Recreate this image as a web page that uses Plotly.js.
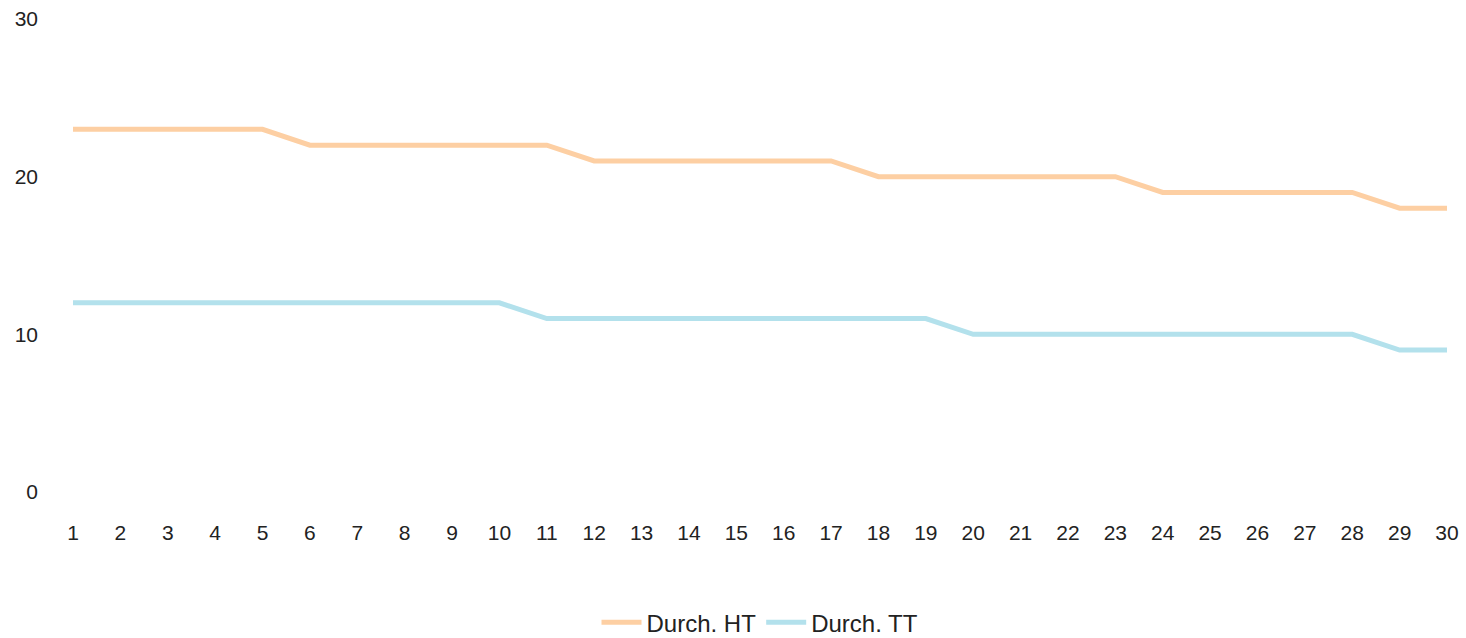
<!DOCTYPE html>
<html>
<head>
<meta charset="utf-8">
<script src="https://cdn.plot.ly/plotly-3.0.1.min.js"></script>
<style>html,body{margin:0;padding:0;background:#fff;}#chart{width:1466px;height:638px;}</style>
</head>
<body>
<div id="chart"></div>
<script>
const days = [1,2,3,4,5,6,7,8,9,10,11,12,13,14,15,16,17,18,19,20,21,22,23,24,25,26,27,28,29,30];
const durchHT = [23,23,23,23,23,22,22,22,22,22,22,21,21,21,21,21,21,20,20,20,20,20,20,19,19,19,19,19,18,18];
const durchTT = [12,12,12,12,12,12,12,12,12,12,11,11,11,11,11,11,11,11,11,10,10,10,10,10,10,10,10,10,9,9];
const seriesNames = ["Durch. HT", "Durch. TT"];
const yTicks = [0,10,20,30];

const traces = [
  {x: days, y: durchHT, name: seriesNames[0], type: "scatter", mode: "lines",
   line: {color: "#FDCFA3", width: 5}},
  {x: days, y: durchTT, name: seriesNames[1], type: "scatter", mode: "lines",
   line: {color: "#B3E1EC", width: 5}}
];

const layout = {
  width: 1466, height: 638,
  margin: {l: 73, r: 19, t: 19, b: 146, autoexpand: false},
  paper_bgcolor: "#fff", plot_bgcolor: "#fff",
  font: {family: "Liberation Sans, Arial, sans-serif", color: "#222"},
  xaxis: {range: [1, 30], tickvals: days, ticktext: days.map(String),
    showgrid: false, zeroline: false, showline: false, ticks: "", automargin: false,
    tickfont: {size: 21}, ticklabelstandoff: 26, fixedrange: true},
  yaxis: {range: [0, 30], tickvals: yTicks, showgrid: false, zeroline: false, automargin: false,
    showline: false, ticks: "", tickfont: {size: 21}, ticklabelstandoff: 34, fixedrange: true},
  showlegend: true,
  legend: {orientation: "h", x: 0.5, xanchor: "center", yref: "container", y: 0.024, yanchor: "middle",
    font: {size: 24}, itemwidth: 40, tracegroupgap: 0},
};
Plotly.newPlot("chart", traces, layout, {displayModeBar: false, staticPlot: true});
</script>
</body>
</html>
